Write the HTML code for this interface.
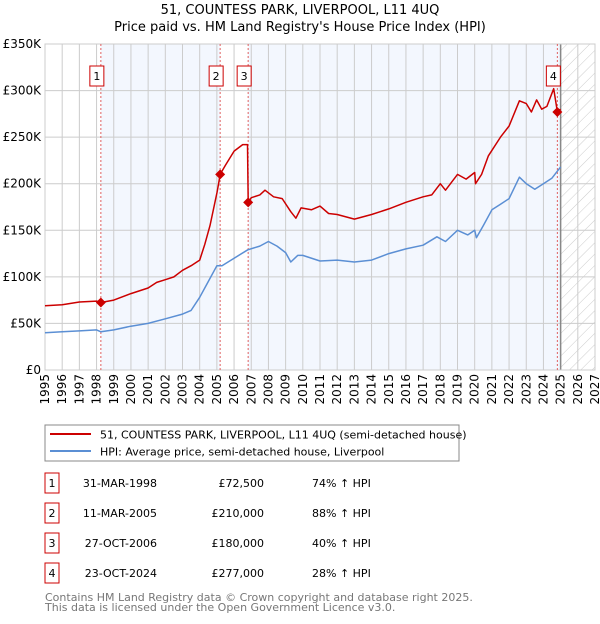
<!DOCTYPE html>
<html><head><meta charset="utf-8"><style>
body{margin:0;background:#fff;width:600px;height:620px;overflow:hidden;font-family:"DejaVu Sans","Liberation Sans",sans-serif;}
svg text{font-family:"DejaVu Sans","Liberation Sans",sans-serif;}
</style></head><body>
<svg id="c" width="600" height="620" xmlns="http://www.w3.org/2000/svg">
<defs><pattern id="hatch" width="8" height="8" patternUnits="userSpaceOnUse" patternTransform="rotate(45)"><rect width="8" height="8" fill="#fff"/><line x1="0" y1="0" x2="0" y2="8" stroke="#ccc" stroke-width="1"/></pattern></defs>
<text x="300" y="14" text-anchor="middle" font-size="13" fill="#000">51, COUNTESS PARK, LIVERPOOL, L11 4UQ</text>
<text x="300" y="31" text-anchor="middle" font-size="13" fill="#000">Price paid vs. HM Land Registry's House Price Index (HPI)</text>
<g id="plot"></g>
<rect x="45" y="425" width="414" height="36" fill="#fff" stroke="#888"/>
<line x1="50" y1="434" x2="91" y2="434" stroke="#cc0000" stroke-width="2"/>
<text x="100" y="438.5" font-size="11">51, COUNTESS PARK, LIVERPOOL, L11 4UQ (semi-detached house)</text>
<line x1="50" y1="451" x2="91" y2="451" stroke="#5b8fd4" stroke-width="2"/>
<text x="100" y="455.5" font-size="11">HPI: Average price, semi-detached house, Liverpool</text>
<g id="table" font-size="11"></g>
<text x="45" y="601" font-size="11" fill="#777">Contains HM Land Registry data © Crown copyright and database right 2025.</text>
<text x="45" y="611" font-size="11" fill="#777">This data is licensed under the Open Government Licence v3.0.</text>
</svg>
<script>
const hpiYears=[1995,1996,1997,1998,1998.25,1999,2000,2001,2002,2003,2003.5,2004,2004.5,2005,2005.3,2006,2006.8,2007.5,2008,2008.5,2009,2009.3,2009.7,2010,2011,2012,2013,2014,2015,2016,2017,2017.8,2018.3,2019,2019.6,2020,2020.1,2020.5,2021,2021.5,2022,2022.6,2023,2023.5,2024,2024.5,2025];
const hpiValues=[40,41,42,43,41,43,47,50,55,60,64,78,95,112,112,120,129,133,138,133,126,116,123,123,117,118,116,118,125,130,134,143,138,150,145,150,142,155,172,178,184,207,200,194,200,206,218];
const ppYears=[1995,1996,1997,1998,1998.25,1999,2000,2001,2001.5,2002,2002.5,2003,2003.5,2004,2004.3,2004.6,2005,2005.1,2005.19,2005.5,2006,2006.5,2006.78,2006.82,2007,2007.5,2007.8,2008.3,2008.8,2009.3,2009.6,2009.9,2010.5,2011,2011.5,2012,2013,2014,2015,2016,2017,2017.5,2018,2018.3,2019,2019.5,2020,2020.05,2020.4,2020.8,2021.5,2022,2022.6,2023,2023.3,2023.6,2023.9,2024.2,2024.6,2024.81,2025];
const ppValues=[69,70,73,74,72.5,75,82,88,94,97,100,107,112,118,135,155,190,200,210,220,235,242,242,180,185,188,193,186,184,170,163,174,172,176,168,167,162,167,173,180,186,188,200,193,210,205,212,200,210,230,250,262,289,286,277,290,280,283,302,277,280];
const saleYears=[1998.25,2005.19,2006.82,2024.81];
const saleValues=[72.5,210,180,277];
const saleLabels=["1","2","3","4"];
const saleDates=["31-MAR-1998","11-MAR-2005","27-OCT-2006","23-OCT-2024"];
const salePrices=["£72,500","£210,000","£180,000","£277,000"];
const salePcts=["74% ↑ HPI","88% ↑ HPI","40% ↑ HPI","28% ↑ HPI"];
const yTicks=[0,50,100,150,200,250,300,350];
const yTickLabels=["£0","£50K","£100K","£150K","£200K","£250K","£300K","£350K"];
const xTicks=[1995,1996,1997,1998,1999,2000,2001,2002,2003,2004,2005,2006,2007,2008,2009,2010,2011,2012,2013,2014,2015,2016,2017,2018,2019,2020,2021,2022,2023,2024,2025,2026,2027];

const NS="http://www.w3.org/2000/svg";
const L=45,R=595,T=44,B=370;
const X=y=>L+(y-1995)*(R-L)/32;
const Y=v=>B-v*(B-T)/350;
const g=document.getElementById('plot');
function mk(t,a,p){const e=document.createElementNS(NS,t);for(const k in a)e.setAttribute(k,a[k]);(p||g).appendChild(e);return e;}
let e;
e=mk('rect',{x:L,y:T,width:R-L,height:B-T,fill:'#fff'});


e=mk('rect',{x:X(1998.25),y:T,width:X(2005.19)-X(1998.25),height:B-T,fill:'#eef3fd',opacity:0.7});


e=mk('rect',{x:X(2006.82),y:T,width:X(2025)-X(2006.82),height:B-T,fill:'#eef3fd',opacity:0.7});


e=mk('rect',{x:X(2025),y:T,width:R-X(2025),height:B-T,fill:'url(#hatch)'});


yTicks.forEach((v,i)=>{
 e=mk('line',{x1:L,x2:R,y1:Y(v),y2:Y(v),stroke:'#ccc','stroke-width':1});
 
 
 e=mk('text',{x:L-4,y:Y(v)+4,'text-anchor':'end','font-size':12});
 e.textContent=yTickLabels[i];
 
 
});
xTicks.forEach(y=>{
 e=mk('line',{x1:X(y),x2:X(y),y1:T,y2:B,stroke:'#ccc','stroke-width':1});
 
 
 e=mk('text',{x:0,y:0,'text-anchor':'end','font-size':12,transform:`translate(${X(y)+4},${B+4}) rotate(-90)`});
 e.textContent=y;
 
 
});
e=mk('line',{x1:X(2025),x2:X(2025),y1:T,y2:B,stroke:'#888','stroke-width':1.5});


e=mk('rect',{x:L,y:T,width:R-L,height:B-T,fill:'none',stroke:'#ccc'});


saleYears.forEach((y,i)=>{
 e=mk('line',{x1:X(y),x2:X(y),y1:T,y2:B,stroke:'#e06060','stroke-width':1,'stroke-dasharray':'2,2'});
 
 
});
function line(xs,vs,col,name){
 e=mk('polyline',{points:xs.map((x,i)=>X(x).toFixed(1)+','+Y(vs[i]).toFixed(1)).join(' '),fill:'none',stroke:col,'stroke-width':1.5,'stroke-linejoin':'round'});
 
 
}
line(hpiYears,hpiValues,'#5b8fd4','hpi-line');
line(ppYears,ppValues,'#cc0000','price-paid-line');
saleYears.forEach((y,i)=>{
 const cx=X(y),cy=Y(saleValues[i]);
 e=mk('path',{d:`M${cx},${cy-5}L${cx+5},${cy}L${cx},${cy+5}L${cx-5},${cy}Z`,fill:'#cc0000'});
 
 
 e=mk('rect',{x:cx-11,y:66,width:14,height:20,fill:'#fff',stroke:'#cc0000'});
 
 
 e=mk('text',{x:cx-4,y:80,'text-anchor':'middle','font-size':11});
 e.textContent=saleLabels[i];
 
 
});
const tb=document.getElementById('table');
saleLabels.forEach((l,i)=>{
 const cy=483+i*30;
 e=mk('rect',{x:45,y:cy-10,width:14,height:20,fill:'#fff',stroke:'#cc0000'},tb);
 
 
 e=mk('text',{x:52,y:cy+4,'text-anchor':'middle'},tb);e.textContent=l;
 
 
 e=mk('text',{x:157,y:cy+4,'text-anchor':'end'},tb);e.textContent=saleDates[i];
 
 
 e=mk('text',{x:264,y:cy+4,'text-anchor':'end'},tb);e.textContent=salePrices[i];
 
 
 e=mk('text',{x:312,y:cy+4},tb);e.textContent=salePcts[i];
 
 
});
</script>
</body></html>
